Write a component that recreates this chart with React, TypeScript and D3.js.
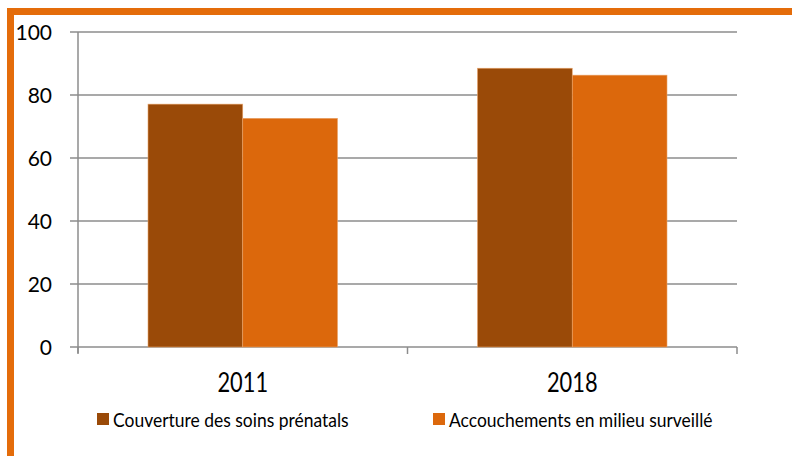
import React from "react";
import * as d3 from "d3";

const categories = ["2011", "2018"];
const seriesNames = ["Couverture des soins prénatals", "Accouchements en milieu surveillé"];
const soinsPrenatals = [77.1, 88.5];
const accouchements = [72.6, 86.3];
const yTicks = [0, 20, 40, 60, 80, 100];
const colors = ["#9A4A08", "#DC680C"];

export default function App() {
  const W = 792, H = 456;
  const left = 78, right = 737, top = 32, bottom = 347;
  const x = d3.scaleBand<string>().domain(categories).range([left, right]).paddingInner(0).paddingOuter(0);
  const y = d3.scaleLinear().domain([0, 100]).range([bottom, top]);
  const bw = x.bandwidth();
  const groupPad = 70 / 329.5;
  const inner = d3.scaleBand<number>().domain([0, 1]).range([bw * groupPad, bw * (1 - groupPad)]);
  const series = [soinsPrenatals, accouchements];
  const font = "Lato, 'Open Sans', sans-serif";
  const ticksX = [left, ...categories.map((c) => (x(c) as number) + bw)];
  const legendX = [97, 433];

  return (
    <svg width={W} height={H} style={{ position: "absolute", left: 0, top: 0 }} fontFamily={font}>
      <rect x={0} y={0} width={W} height={H} fill="#fff" />
      {/* border */}
      <rect x={7} y={8} width={W - 7} height={7} fill="#E46C0A" />
      <rect x={7} y={8} width={7} height={H - 8} fill="#E46C0A" />
      {/* gridlines */}
      {yTicks.map((t) => (
        <g key={t}>
          <line x1={70} x2={right} y1={y(t)} y2={y(t)} stroke="#8C8C8C" strokeWidth={1.5} />
          <text x={52} y={y(t)} dy="0.36em" textAnchor="end" fontSize={21} fill="#000">{t}</text>
        </g>
      ))}
      <line x1={left} x2={left} y1={top} y2={bottom + 6} stroke="#8C8C8C" strokeWidth={1.5} />
      {ticksX.map((tx, i) => (
        <line key={i} x1={tx} x2={tx} y1={bottom} y2={bottom + 7} stroke="#8C8C8C" strokeWidth={1.5} />
      ))}
      {/* bars */}
      {categories.map((c, ci) => (
        <g key={c}>
          {series.map((s, si) => (
            <rect
              key={si}
              x={(x(c) as number) + (inner(si) as number)}
              y={y(s[ci])}
              width={inner.bandwidth()}
              height={bottom - y(s[ci])}
              fill={colors[si]}
              stroke="#E9A46A"
              strokeWidth={0.6}
            />
          ))}
          <text
            transform={`translate(${(x(c) as number) + bw / 2},392) scale(0.84,1)`}
            textAnchor="middle"
            fontSize={26}
            fill="#000"
          >
            {c}
          </text>
        </g>
      ))}
      {/* legend */}
      {legendX.map((lx, i) => (
        <g key={i}>
          <rect x={lx} y={413} width={12} height={12} fill={colors[i]} />
          <text transform={`translate(${lx + 16},426.5) scale(0.945,1)`} fontSize={18.5} fill="#000">
            {seriesNames[i]}
          </text>
        </g>
      ))}
    </svg>
  );
}
